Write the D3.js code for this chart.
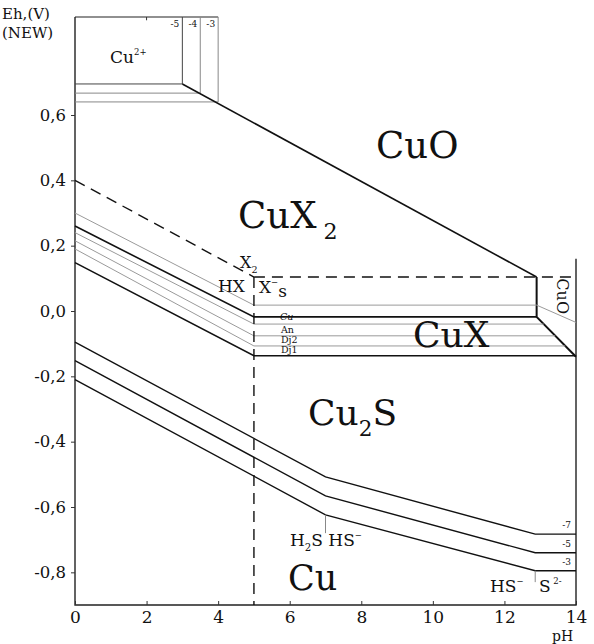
<!DOCTYPE html>
<html><head><meta charset="utf-8">
<script src="https://cdn.jsdelivr.net/npm/d3@7"></script>
<style>body{margin:0;background:#fff}svg{display:block}text{font-family:"DejaVu Serif",serif;fill:#111}</style>
</head><body><svg id="c" width="594" height="644"></svg>
<script>
// ---- data (pH, Eh in V) ----
const pHTicks = [0, 2, 4, 6, 8, 10, 12, 14];
const ehTicks = [0.6, 0.4, 0.2, 0.0, -0.2, -0.4, -0.6, -0.8];
const topTicks = [2];
// Cu2+ / CuO boundaries for log a = -5, -4, -3
const cu2Act = ["-5", "-4", "-3"];
const cu2Lines = [
  [[0, 0.695], [3, 0.695], [3, 0.9]],
  [[0, 0.667], [3.5, 0.667], [3.5, 0.9]],
  [[0, 0.64], [4, 0.64], [4, 0.9]]
];
const cuoBoundary = [[3, 0.695], [12.9, 0.104]];
const cuoRight = [[12.9, 0.104], [12.9, -0.018], [14, -0.14]];
// CuX2 / CuX / Cu2S mineral lines
const mineralNames = ["s", "Cu", "An", "Dj2", "Dj1", "CuX"];
const mineralLines = [
  [[0, 0.30], [5, 0.018], [12.9, 0.018], [14, -0.035]],
  [[0, 0.26], [5, -0.018], [12.9, -0.018]],
  [[0, 0.24], [5, -0.04], [13.1, -0.04]],
  [[0, 0.215], [5, -0.076], [13.42, -0.076]],
  [[0, 0.19], [5, -0.107], [13.7, -0.107]],
  [[0, 0.148], [5, -0.137], [14, -0.137]]
];
const mineralGray = [true, false, true, true, true, false];
// halogen speciation (dashed)
const dashedLines = [
  [[0, 0.40], [5, 0.104]],
  [[5, 0.104], [14, 0.104]],
  [[5, 0.104], [5, -0.9]]
];
// Cu2S / Cu boundaries for log a S = -7, -5, -3
const sAct = ["-7", "-5", "-3"];
const sulfLines = [
  [[0, -0.095], [7, -0.508], [12.86, -0.683], [14, -0.683]],
  [[0, -0.152], [7, -0.566], [12.86, -0.74], [14, -0.74]],
  [[0, -0.21], [7, -0.624], [12.86, -0.795], [14, -0.795]]
];
const sulfTicks = [
  [[7, -0.624], [7, -0.68]],
  [[12.86, -0.795], [12.86, -0.83]]
];

// ---- drawing ----
const svg = d3.select("#c");
const x = d3.scaleLinear().domain([0, 14]).range([75, 576]);
const y = d3.scaleLinear().domain([-0.9, 0.9]).range([605, 17]);
const line = d3.line().x(d => x(d[0])).y(d => y(d[1]));
const fmt = v => d3.format(".1f")(v).replace(".", ",").replace("−", "-");

function path(pts, stroke, w, dash) {
  const p = svg.append("path").attr("d", line(pts)).attr("fill", "none")
    .attr("stroke", stroke).attr("stroke-width", w);
  if (dash) p.attr("stroke-dasharray", dash);
  return p;
}

// frame
path([[0, 0.9], [0, -0.9], [14, -0.9], [14, 0.16]], "#222", 1.4);
path([[0, 0.9], [4, 0.9]], "#222", 1.2);

// axes ticks
const gx = svg.append("g").attr("transform", `translate(0,${y(-0.9)})`)
  .call(d3.axisBottom(x).tickValues(pHTicks).tickSize(-4).tickPadding(6).tickFormat(d => d));
gx.select(".domain").remove();
gx.selectAll("text").attr("font-size", 17).attr("font-family", "DejaVu Serif").attr("fill", "#111");
gx.selectAll("line").attr("stroke", "#333");

const gy = svg.append("g").attr("transform", `translate(${x(0)},0)`)
  .call(d3.axisLeft(y).tickValues(ehTicks).tickSize(4).tickPadding(5).tickFormat(fmt));
gy.select(".domain").remove();
gy.selectAll("text").attr("font-size", 16.5).attr("font-family", "DejaVu Serif").attr("fill", "#111");
gy.selectAll("line").attr("stroke", "#333");

topTicks.forEach(t => path([[t, 0.9], [t, 0.89]], "#333", 1));

// Cu2+ lines
cu2Lines.forEach((l, i) => path(l, i === 0 ? "#444" : "#888", 1));
cu2Act.forEach((a, i) => svg.append("text").attr("x", x(cu2Lines[i][1][0]) - 3).attr("y", y(0.87))
  .attr("text-anchor", "end").attr("font-size", 9).text(a));
path(cuoBoundary, "#111", 1.6);
path(cuoRight, "#111", 2);

// mineral lines
mineralLines.forEach((l, i) => path(l, mineralGray[i] ? "#9a9a9a" : "#111", mineralGray[i] ? 1 : 1.6));
dashedLines.forEach(l => path(l, "#111", 1.4, "11,7"));

// sulfide lines
sulfLines.forEach(l => path(l, "#111", 1.4));
sulfTicks.forEach(l => path(l, "#888", 1));
sAct.forEach((a, i) => svg.append("text").attr("x", x(14) - 5).attr("y", y(sulfLines[i][3][1]) - 6)
  .attr("text-anchor", "end").attr("font-size", 9).text(a));

// labels helper
function label(px, py, parts, size) {
  const t = svg.append("text").attr("x", px).attr("y", py).attr("font-size", size);
  parts.forEach(p => {
    const s = t.append("tspan").text(p[0]);
    if (p[1] === "sub") s.attr("dy", size * 0.3).attr("font-size", size * 0.6);
    if (p[1] === "sup") s.attr("dy", -size * 0.45).attr("font-size", size * 0.5);
    if (p[1] === "base") s.attr("dy", p[2]);
  });
  return t;
}

// axis titles
svg.append("text").attr("x", 2).attr("y", 19).attr("font-size", 15).text("Eh,(V)");
svg.append("text").attr("x", 2).attr("y", 38).attr("font-size", 15).text("(NEW)");
svg.append("text").attr("x", 552).attr("y", 641).attr("font-size", 14).text("pH");

// field labels
label(110, 63, [["Cu"], ["2+", "sup"]], 17);
svg.append("text").attr("x", 376).attr("y", 158).attr("font-size", 37).text("CuO");
label(238, 228, [["CuX"], [" 2", "sub"]], 37);
svg.append("text").attr("x", 413).attr("y", 347).attr("font-size", 36).text("CuX");
label(308, 425, [["Cu"], ["2", "sub"], ["S", "base", -36 * 0.3]], 36);
svg.append("text").attr("x", 288).attr("y", 590).attr("font-size", 35).text("Cu");
svg.append("text").attr("x", 0).attr("y", 0).attr("font-size", 16)
  .attr("transform", `translate(${x(13.48)},${y(0.1)}) rotate(90)`).text("CuO");

// halogen labels
label(240, 268, [["X"], ["2", "sub"]], 16);
svg.append("text").attr("x", 218).attr("y", 292).attr("font-size", 17).text("HX");
label(259, 293, [["X"], ["−", "sup"], ["s", "base", 12]], 17);

// mineral line labels
svg.append("text").attr("x", 280).attr("y", y(-0.018) + 3).attr("font-size", 9.5).attr("font-style", "italic").text("Cu");
svg.append("text").attr("x", 281).attr("y", 333).attr("font-size", 9.5).text("An");
svg.append("text").attr("x", 281).attr("y", 343).attr("font-size", 9.5).text("Dj2");
svg.append("text").attr("x", 281).attr("y", 353).attr("font-size", 9.5).text("Dj1");

// sulfur species labels
label(290, 546, [["H"], ["2", "sub"], ["S HS", "base", -17 * 0.3], ["−", "sup"]], 17);
label(490, 592, [["HS"], ["−", "sup"]], 17);
label(539, 592, [["S"], [" 2-", "sup"]], 17);
</script></body></html>
